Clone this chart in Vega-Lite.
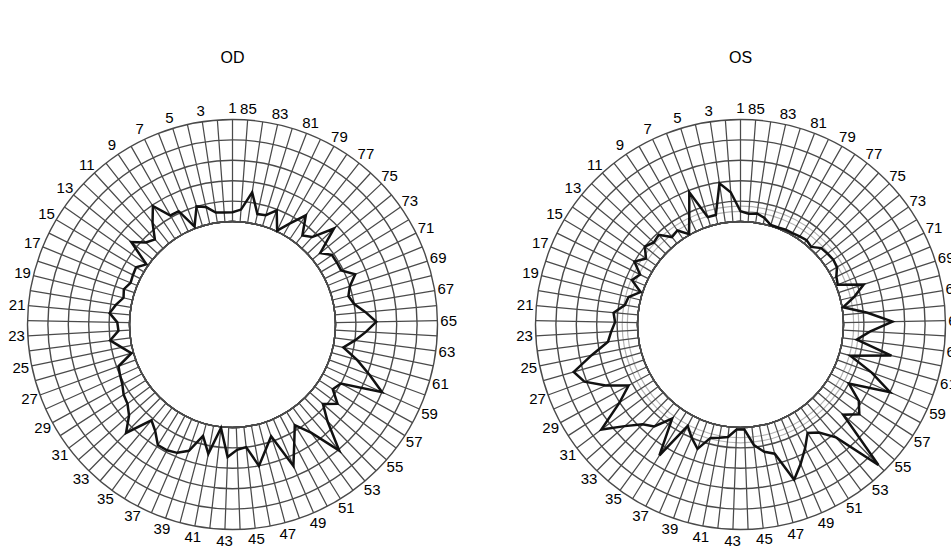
{
  "$schema": "https://vega.github.io/schema/vega-lite/v6.json",
  "padding": {"top": 50, "left": 5, "right": 0, "bottom": 0},
  "spacing": 53,
  "config": {"view": {"stroke": null}, "font": "Liberation Sans"},
  "datasets": {
    "rings": [{"ring": 0}, {"ring": 1}, {"ring": 2}, {"ring": 3}, {"ring": 4}, {"ring": 5}],
    "normband": [{"ring": 0.5}, {"ring": 0.75}],
    "od": [
      {"pos": 1, "u": 0.45}, {"pos": 2, "u": 0.45}, {"pos": 3, "u": 0.5}, {"pos": 4, "u": 0.85}, {"pos": 5, "u": 1.0},
      {"pos": 6, "u": 0.1}, {"pos": 7, "u": 1.1}, {"pos": 8, "u": 1.1}, {"pos": 9, "u": 1.95}, {"pos": 10, "u": 1.3},
      {"pos": 11, "u": 0.6}, {"pos": 12, "u": 0.8}, {"pos": 13, "u": 1.35}, {"pos": 14, "u": 0.1}, {"pos": 15, "u": 0.45},
      {"pos": 16, "u": 0.4}, {"pos": 17, "u": 0.35}, {"pos": 18, "u": 0.55}, {"pos": 19, "u": 0.45}, {"pos": 20, "u": 0.75},
      {"pos": 21, "u": 1.0}, {"pos": 22, "u": 0.6}, {"pos": 23, "u": 0.55}, {"pos": 24, "u": 1.0}, {"pos": 25, "u": 0.5},
      {"pos": 26, "u": 0.1}, {"pos": 27, "u": 0.9}, {"pos": 28, "u": 1.0}, {"pos": 29, "u": 1.1}, {"pos": 30, "u": 1.3},
      {"pos": 31, "u": 1.4}, {"pos": 32, "u": 1.7}, {"pos": 33, "u": 2.4}, {"pos": 34, "u": 1.1}, {"pos": 35, "u": 1.4},
      {"pos": 36, "u": 1.9}, {"pos": 37, "u": 1.9}, {"pos": 38, "u": 1.8}, {"pos": 39, "u": 1.5}, {"pos": 40, "u": 0.6},
      {"pos": 41, "u": 1.4}, {"pos": 42, "u": 0.05}, {"pos": 43, "u": 1.45}, {"pos": 44, "u": 1.1}, {"pos": 45, "u": 1.0},
      {"pos": 46, "u": 2.0}, {"pos": 47, "u": 1.3}, {"pos": 48, "u": 0.75}, {"pos": 49, "u": 2.5}, {"pos": 50, "u": 1.5},
      {"pos": 51, "u": 0.75}, {"pos": 52, "u": 1.5}, {"pos": 53, "u": 3.05}, {"pos": 54, "u": 1.6}, {"pos": 55, "u": 0.85},
      {"pos": 56, "u": 1.4}, {"pos": 57, "u": 0.8}, {"pos": 58, "u": 1.0}, {"pos": 59, "u": 3.0}, {"pos": 60, "u": 2.1},
      {"pos": 61, "u": 1.3}, {"pos": 62, "u": 0.5}, {"pos": 63, "u": 1.0}, {"pos": 64, "u": 1.5}, {"pos": 65, "u": 2.0},
      {"pos": 66, "u": 1.5}, {"pos": 67, "u": 1.0}, {"pos": 68, "u": 0.8}, {"pos": 69, "u": 1.0}, {"pos": 70, "u": 1.45},
      {"pos": 71, "u": 0.9}, {"pos": 72, "u": 0.9}, {"pos": 73, "u": 0.9}, {"pos": 74, "u": 0.5}, {"pos": 75, "u": 1.8},
      {"pos": 76, "u": 0.75}, {"pos": 77, "u": 0.5}, {"pos": 78, "u": 1.4}, {"pos": 79, "u": 0.65}, {"pos": 80, "u": 0.05},
      {"pos": 81, "u": 0.95}, {"pos": 82, "u": 0.55}, {"pos": 83, "u": 0.5}, {"pos": 84, "u": 1.5}, {"pos": 85, "u": 0.6}
    ],
    "os": [
      {"pos": 1, "u": 0.5}, {"pos": 2, "u": 1.45}, {"pos": 3, "u": 1.95}, {"pos": 4, "u": 0.45}, {"pos": 5, "u": 0.45},
      {"pos": 6, "u": 1.9}, {"pos": 7, "u": 0.8}, {"pos": 8, "u": 0.05}, {"pos": 9, "u": 0.5}, {"pos": 10, "u": 0.4},
      {"pos": 11, "u": 0.9}, {"pos": 12, "u": 0.8}, {"pos": 13, "u": 1.0}, {"pos": 14, "u": 0.6}, {"pos": 15, "u": 1.0},
      {"pos": 16, "u": 0.45}, {"pos": 17, "u": 0.7}, {"pos": 18, "u": 0.1}, {"pos": 19, "u": 0.6}, {"pos": 20, "u": 0.7},
      {"pos": 21, "u": 1.2}, {"pos": 22, "u": 1.1}, {"pos": 23, "u": 1.3}, {"pos": 24, "u": 1.5}, {"pos": 25, "u": 2.4},
      {"pos": 26, "u": 3.45}, {"pos": 27, "u": 3.1}, {"pos": 28, "u": 2.2}, {"pos": 29, "u": 1.2}, {"pos": 30, "u": 2.0},
      {"pos": 31, "u": 3.5}, {"pos": 32, "u": 2.5}, {"pos": 33, "u": 1.8}, {"pos": 34, "u": 1.5}, {"pos": 35, "u": 0.65},
      {"pos": 36, "u": 2.5}, {"pos": 37, "u": 0.55}, {"pos": 38, "u": 1.0}, {"pos": 39, "u": 1.4}, {"pos": 40, "u": 0.7},
      {"pos": 41, "u": 0.6}, {"pos": 42, "u": 0.5}, {"pos": 43, "u": 0.1}, {"pos": 44, "u": 0.1}, {"pos": 45, "u": 0.9},
      {"pos": 46, "u": 1.3}, {"pos": 47, "u": 1.5}, {"pos": 48, "u": 3.0}, {"pos": 49, "u": 2.4}, {"pos": 50, "u": 1.8},
      {"pos": 51, "u": 1.2}, {"pos": 52, "u": 1.5}, {"pos": 53, "u": 2.2}, {"pos": 54, "u": 4.6}, {"pos": 55, "u": 1.65},
      {"pos": 56, "u": 2.25}, {"pos": 57, "u": 1.85}, {"pos": 58, "u": 1.0}, {"pos": 59, "u": 3.0}, {"pos": 60, "u": 1.8},
      {"pos": 61, "u": 0.55}, {"pos": 62, "u": 2.5}, {"pos": 63, "u": 0.7}, {"pos": 64, "u": 1.3}, {"pos": 65, "u": 2.4},
      {"pos": 66, "u": 1.2}, {"pos": 67, "u": 0.05}, {"pos": 68, "u": 0.7}, {"pos": 69, "u": 1.3}, {"pos": 70, "u": 0.1},
      {"pos": 71, "u": 0.2}, {"pos": 72, "u": 0.45}, {"pos": 73, "u": 0.5}, {"pos": 74, "u": 0.45}, {"pos": 75, "u": 0.4},
      {"pos": 76, "u": 0.1}, {"pos": 77, "u": 0.2}, {"pos": 78, "u": 0.15}, {"pos": 79, "u": 0.1}, {"pos": 80, "u": 0.1},
      {"pos": 81, "u": 0.05}, {"pos": 82, "u": 0.05}, {"pos": 83, "u": 0.3}, {"pos": 84, "u": 0.45}, {"pos": 85, "u": 0.4}
    ]
  },
  "hconcat": [
    {
      "title": {"text": "OD", "fontSize": 16, "fontWeight": "normal", "font": "Liberation Sans", "offset": 31, "color": "#000"},
      "width": 455, "height": 455,
      "layer": [
        {
          "data": {"name": "rings"},
          "mark": {"type": "arc", "theta": 0, "theta2": 6.2832, "fill": null, "stroke": "#4a4a4a", "strokeWidth": 1.4},
          "encoding": {"radius": {"field": "ring", "type": "quantitative", "stack": null, "scale": {"type": "linear", "domain": [-5.05, 5], "range": [0, 205], "zero": false, "nice": false}}}
        },
        {
          "data": {"name": "od"},
          "mark": {"type": "arc", "fill": null, "stroke": "#4a4a4a", "strokeWidth": 1.25},
          "encoding": {
            "theta": {"field": "pos", "type": "quantitative", "stack": null, "scale": {"type": "linear", "domain": [1, 86], "range": [6.283185307, 0], "zero": false, "nice": false}},
            "theta2": {"field": "pos"},
            "radius": {"datum": 5, "type": "quantitative", "stack": null, "scale": {"type": "linear", "domain": [-5.05, 5], "range": [0, 205], "zero": false, "nice": false}},
            "radius2": {"datum": 0}
          }
        },
        {
          "data": {"name": "od"},
          "transform": [{"filter": "datum.pos % 2 == 1"}],
          "mark": {"type": "text", "fontSize": 15, "font": "Liberation Sans", "align": "center", "baseline": "middle", "color": "#000"},
          "encoding": {
            "theta": {"field": "pos", "type": "quantitative", "stack": null, "scale": {"type": "linear", "domain": [1, 86], "range": [6.283185307, 0], "zero": false, "nice": false}},
            "radius": {"datum": 5.55, "type": "quantitative", "stack": null, "scale": {"type": "linear", "domain": [-5.05, 5], "range": [0, 205], "zero": false, "nice": false}},
            "text": {"field": "pos", "type": "quantitative", "format": "d"}
          }
        },
        {
          "data": {"name": "od"},
          "transform": [
            {"calculate": "(datum.pos - 1) * 2 * PI / 85", "as": "a"},
            {"calculate": "datum.u + 5.05", "as": "rr"},
            {"calculate": "-datum.rr * sin(datum.a)", "as": "px"},
            {"calculate": "datum.rr * cos(datum.a)", "as": "py"}
          ],
          "mark": {"type": "line", "interpolate": "linear-closed", "color": "#111", "strokeWidth": 2.5},
          "encoding": {
            "x": {"field": "px", "type": "quantitative", "axis": null, "scale": {"domain": [-11.153, 11.153], "zero": false, "nice": false}},
            "y": {"field": "py", "type": "quantitative", "axis": null, "scale": {"domain": [-11.153, 11.153], "zero": false, "nice": false}},
            "order": {"field": "pos", "type": "quantitative"}
          }
        }
      ]
    },
    {
      "title": {"text": "OS", "fontSize": 16, "fontWeight": "normal", "font": "Liberation Sans", "offset": 31, "color": "#000"},
      "width": 455, "height": 455,
      "layer": [
        {
          "data": {"name": "normband"},
          "mark": {"type": "arc", "theta": 0, "theta2": 6.2832, "fill": null, "stroke": "#b4b4b4", "strokeWidth": 1.2},
          "encoding": {"radius": {"field": "ring", "type": "quantitative", "stack": null, "scale": {"type": "linear", "domain": [-5.05, 5], "range": [0, 205], "zero": false, "nice": false}}}
        },
        {
          "data": {"name": "rings"},
          "mark": {"type": "arc", "theta": 0, "theta2": 6.2832, "fill": null, "stroke": "#4a4a4a", "strokeWidth": 1.4},
          "encoding": {"radius": {"field": "ring", "type": "quantitative", "stack": null, "scale": {"type": "linear", "domain": [-5.05, 5], "range": [0, 205], "zero": false, "nice": false}}}
        },
        {
          "data": {"name": "os"},
          "mark": {"type": "arc", "fill": null, "stroke": "#4a4a4a", "strokeWidth": 1.25},
          "encoding": {
            "theta": {"field": "pos", "type": "quantitative", "stack": null, "scale": {"type": "linear", "domain": [1, 86], "range": [6.283185307, 0], "zero": false, "nice": false}},
            "theta2": {"field": "pos"},
            "radius": {"datum": 5, "type": "quantitative", "stack": null, "scale": {"type": "linear", "domain": [-5.05, 5], "range": [0, 205], "zero": false, "nice": false}},
            "radius2": {"datum": 0}
          }
        },
        {
          "data": {"name": "os"},
          "transform": [{"filter": "datum.pos % 2 == 1"}],
          "mark": {"type": "text", "fontSize": 15, "font": "Liberation Sans", "align": "center", "baseline": "middle", "color": "#000"},
          "encoding": {
            "theta": {"field": "pos", "type": "quantitative", "stack": null, "scale": {"type": "linear", "domain": [1, 86], "range": [6.283185307, 0], "zero": false, "nice": false}},
            "radius": {"datum": 5.55, "type": "quantitative", "stack": null, "scale": {"type": "linear", "domain": [-5.05, 5], "range": [0, 205], "zero": false, "nice": false}},
            "text": {"field": "pos", "type": "quantitative", "format": "d"}
          }
        },
        {
          "data": {"name": "os"},
          "transform": [
            {"calculate": "(datum.pos - 1) * 2 * PI / 85", "as": "a"},
            {"calculate": "datum.u + 5.05", "as": "rr"},
            {"calculate": "-datum.rr * sin(datum.a)", "as": "px"},
            {"calculate": "datum.rr * cos(datum.a)", "as": "py"}
          ],
          "mark": {"type": "line", "interpolate": "linear-closed", "color": "#111", "strokeWidth": 2.5},
          "encoding": {
            "x": {"field": "px", "type": "quantitative", "axis": null, "scale": {"domain": [-11.153, 11.153], "zero": false, "nice": false}},
            "y": {"field": "py", "type": "quantitative", "axis": null, "scale": {"domain": [-11.153, 11.153], "zero": false, "nice": false}},
            "order": {"field": "pos", "type": "quantitative"}
          }
        }
      ]
    }
  ]
}
